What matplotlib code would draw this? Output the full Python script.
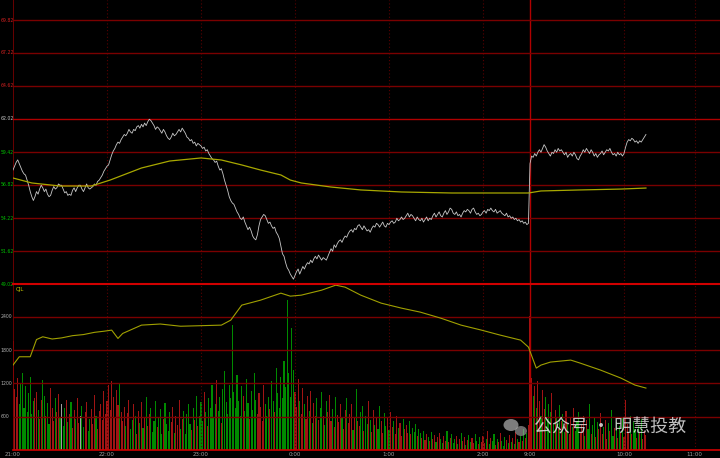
import matplotlib
matplotlib.use("Agg")
from matplotlib import pyplot as plt
from matplotlib.patches import Ellipse
import numpy as np

# minute index from 21:00 (night 21:00-2:30, then day session from 9:00)
tick_pos = [0, 60, 120, 180, 240, 300, 330, 390, 435]
tick_labels = ["21:00", "22:00", "23:00", "0:00", "1:00", "2:00", "9:00", "10:00", "11:00"]

price_levels = [69.82, 67.22, 64.62, 62.02, 59.42, 56.82, 54.22, 51.62, 49.02]
vol_levels = [600, 1200, 1800, 2400]

price = [
    58.0, 58.3, 58.6, 58.8, 58.5, 58.2, 57.9, 57.7, 57.6, 57.2,
    56.8, 56.3, 55.9, 55.6, 55.9, 56.3, 56.1, 56.5, 56.8, 56.6,
    56.3, 56.5, 56.1, 55.9, 56.0, 56.4, 56.7, 56.5, 56.6, 56.9,
    56.8, 56.8, 56.5, 56.2, 56.3, 56.0, 56.1, 56.0, 56.4, 56.6,
    56.3, 56.6, 56.8, 56.8, 56.5, 56.3, 56.6, 56.9, 56.6, 56.5,
    56.6, 56.7, 56.9, 56.8, 57.1, 57.2, 57.4, 57.6, 57.9, 58.1,
    58.3, 58.4, 58.8, 59.2, 59.5, 59.7, 60.0, 60.2, 60.1, 60.4,
    60.6, 60.8, 60.7, 60.9, 61.2, 61.0, 60.9, 61.2, 61.1, 61.4,
    61.5, 61.3, 61.6, 61.4, 61.7, 61.5, 61.8, 62.0, 61.9, 61.7,
    61.5, 61.2, 61.4, 61.3, 61.1, 60.9, 61.2, 61.0, 60.7, 60.5,
    60.4, 60.6, 60.9, 60.7, 60.8, 61.0, 61.2, 61.0, 61.3, 61.1,
    60.9, 60.6, 60.5, 60.3, 60.4, 60.1, 60.2, 59.9, 60.1, 60.0,
    59.9, 59.7, 59.8, 59.5, 59.6, 59.3, 59.1, 58.9, 58.8, 58.6,
    58.7, 58.3, 58.0, 58.1, 57.7, 57.2, 56.8, 56.4, 55.9, 55.6,
    55.4, 55.3, 55.0, 54.7, 54.5, 54.2, 54.1, 54.3, 53.9, 53.6,
    53.3, 53.5, 53.2, 52.8, 52.6, 52.5, 52.9, 53.6, 54.1, 54.3,
    54.5, 54.4, 54.1, 53.8, 53.9, 53.6, 53.4, 53.5, 53.1, 52.9,
    52.6, 52.0, 51.4, 51.2, 50.7, 50.3, 50.1, 49.8, 49.6, 49.4,
    49.7, 50.0, 50.2, 49.8, 50.1, 50.4, 50.2, 50.5, 50.7, 50.6,
    50.9, 50.7, 51.0, 51.2, 51.0, 51.3, 51.1, 50.9, 51.1, 51.0,
    50.9, 51.2, 51.5, 51.8, 51.6, 52.1, 51.9, 52.2, 52.4, 52.5,
    52.3, 52.6, 52.8, 52.7, 53.0, 53.2, 53.3, 53.1, 53.4, 53.3,
    53.6, 53.7, 53.5, 53.3, 53.6, 53.4, 53.2, 53.3, 53.1, 53.4,
    53.6, 53.5, 53.8, 53.7, 53.5, 53.7, 53.9, 53.6, 53.5, 53.8,
    53.7, 53.9, 54.0, 53.8, 53.9, 54.2, 54.0, 54.1, 54.3, 54.1,
    54.2, 54.4, 54.6, 54.3, 54.5, 54.4, 54.2, 54.0, 54.3, 54.1,
    54.0, 54.2, 53.9, 54.1, 54.3, 54.0, 54.2, 54.1, 54.4, 54.6,
    54.3, 54.5, 54.7, 54.4, 54.3, 54.6, 54.8, 54.5, 54.7, 55.0,
    54.9, 54.6, 54.5, 54.7, 54.4, 54.5, 54.3, 54.6, 54.8, 54.7,
    54.9, 54.8, 54.6, 54.9, 55.0, 54.7, 54.5, 54.6, 54.4, 54.5,
    54.7, 54.8, 54.6, 54.9, 54.8, 55.0, 54.8, 54.7, 54.9, 54.6,
    54.7, 54.8, 54.6, 54.5, 54.4, 54.6, 54.3, 54.4, 54.2, 54.3,
    54.1, 54.2, 54.0, 54.1, 53.9, 54.0, 53.8, 53.9, 53.7, 53.8,
    58.5, 59.1, 59.0, 59.3, 59.1, 59.4, 59.6, 59.4, 59.7, 60.0,
    59.8, 59.5, 59.3, 59.1, 59.4, 59.3, 59.6, 59.4, 59.7, 59.5,
    59.6, 59.4, 59.2, 59.4, 59.0, 59.2, 59.3, 59.1, 59.4, 59.2,
    58.9, 58.8, 59.1, 59.3, 59.6, 59.4, 59.7, 59.5, 59.3, 59.6,
    59.4, 59.1, 59.3, 59.0, 59.2, 59.3, 59.5, 59.2, 59.4, 59.6,
    59.5, 59.7, 59.4, 59.2, 59.3, 59.1, 59.4, 59.2, 59.3, 59.1,
    59.3, 59.8, 60.2, 60.4, 60.3, 60.5, 60.4, 60.2, 60.3, 60.1,
    60.3, 60.2, 60.4, 60.6, 60.8,
]

avg_x = [0, 12, 30, 50, 62, 82, 100, 120, 133, 146, 158, 171, 177, 184,
         203, 222, 248, 280, 311, 329, 337, 362, 388, 404]
avg_price = [57.37, 56.98, 56.74, 56.74, 57.21, 58.16, 58.71, 58.95, 58.79,
             58.40, 58.00, 57.61, 57.21, 56.98, 56.66, 56.43, 56.27, 56.19,
             56.19, 56.19, 56.35, 56.43, 56.50, 56.58]

volume = [
    1960, 1100, 950, 1300, 820, 1200, 1380, 760, 1150, 690, 1020, 1310, 640, 880, 930,
    1050, 720, 560, 900, 1270, 980, 610, 840, 470, 1120, 760, 520, 930, 680, 1010,
    580, 820, 430, 760, 900, 510, 640, 860, 390, 720, 550, 930, 480, 610, 790,
    420, 680, 870, 350, 560, 740, 460, 990, 620, 380, 710, 830, 540, 1060, 650,
    880, 1180, 720, 1240, 960, 590, 1090, 810, 1200, 690, 520, 780, 430, 660, 900,
    370, 540, 820, 610, 290, 700, 480, 860, 390, 570, 950, 440, 650, 760, 330,
    520, 880, 410, 600, 730, 280, 560, 840, 470, 350, 690, 510, 780, 300, 620,
    450, 900, 380, 560, 710, 290, 640, 820, 470, 360, 750, 540, 980, 430, 610,
    870, 520, 1050, 680, 440, 930, 760, 1180, 590, 820, 1260, 700, 950, 480, 1100,
    1420, 860, 640, 1180, 930, 2250, 1040, 760, 1350, 890, 620, 1150, 980, 700, 1280,
    840, 560, 1060, 720, 1390, 900, 650, 1020, 780, 520, 1170, 830, 610, 950, 740,
    1240, 880, 690, 1480, 1020, 760, 1320, 940, 1600, 1130, 2700, 1380, 960, 2200, 1450,
    1050, 780, 1280, 890, 640, 1120, 820, 560, 980, 700, 1060, 480, 850, 620, 930,
    540, 760, 1040, 620, 450, 880, 690, 1000, 520, 740, 410, 960, 630, 500, 830,
    600, 380, 720, 940, 480, 650, 820, 360, 590, 1100, 530, 430, 690, 800, 350,
    610, 470, 880, 540, 330, 720, 450, 600, 380, 790, 520, 300, 660, 440, 570,
    360, 680, 420, 530, 290, 610, 400, 480, 260, 560, 370, 450, 310, 520, 280,
    400, 330, 470, 250, 380, 300, 210, 350, 180, 290, 240, 160, 320, 200, 270,
    150, 230, 310, 190, 120, 260, 170, 340, 140, 220, 280, 130, 190, 250, 110,
    200, 310, 160, 240, 90, 180, 270, 140, 210, 120, 290, 170, 100, 230, 150,
    260, 130, 190, 350, 110, 220, 170, 280, 90, 200, 140, 310, 160, 80, 240,
    180, 120, 270, 150, 210, 100, 330, 190, 140, 260, 170, 380, 220, 300, 450,
    2420, 1300, 980, 1150, 760, 1240, 890, 620, 1080, 740, 950, 560, 830, 680, 1020,
    470, 720, 590, 380, 810, 520, 640, 330, 700, 460, 280, 580, 410, 750, 350,
    520, 690, 300, 470, 610, 250, 540, 380, 820, 290, 450, 600, 230, 510, 370,
    660, 280, 420, 540, 200, 480, 340, 720, 260, 390, 510, 220, 440, 310, 580,
    240, 900, 460, 330, 620, 280, 500, 370, 210, 430, 310, 560, 190, 350, 270,
]

cjl_x = [0, 4, 11, 15, 19, 25, 31, 38, 45, 52, 58, 63, 67, 70, 82, 94, 107,
         120, 133, 139, 146, 158, 171, 177, 184, 197, 206, 212, 222, 235, 248,
         260, 273, 286, 299, 311, 324, 329, 334, 337, 343, 356, 362, 375, 388,
         397, 404]
cjl = [1530, 1680, 1680, 1990, 2040, 2000, 2020, 2060, 2080, 2120, 2140, 2160,
       2010, 2100, 2250, 2270, 2230, 2240, 2250, 2340, 2610, 2700, 2826, 2772,
       2790, 2880, 2970, 2934, 2790, 2646, 2556, 2484, 2376, 2250, 2160, 2070,
       1980, 1854, 1476, 1530, 1584, 1620, 1566, 1440, 1296, 1170, 1116]

W, H = 720, 458
px_per_min = 94 / 60
left_px = 13
x_max = (W - left_px) / px_per_min

fig = plt.figure(figsize=(7.2, 4.58), dpi=100, facecolor="black")
ax1 = fig.add_axes([left_px / W, 1 - 284 / H, 1 - left_px / W, 284 / H])
ax2 = fig.add_axes([left_px / W, 1 - 450 / H, 1 - left_px / W, 166 / H])

grid_red = "#7a0000"
bright_red = "#d00000"

for ax in (ax1, ax2):
    ax.set_facecolor("black")
    ax.set_xlim(0, x_max)
    ax.set_xticks([])
    ax.set_yticks([])
    for s in ax.spines.values():
        s.set_visible(False)
    # hour lines
    for t in tick_pos:
        if t == 0:
            ax.axvline(t, color=grid_red, lw=1.2)
        elif t == 330:
            ax.axvline(t, color="#b00000", lw=1.0)
        else:
            ax.axvline(t, color="#5a0000", lw=0.8, ls=(0, (1, 2)))

# ---- price panel
step = price_levels[0] - price_levels[1]
ax1.set_ylim(price_levels[-1], price_levels[0] + 20 / 33 * step)
for lv in price_levels[:-1]:
    c = "#b00000" if lv == 62.02 else grid_red
    ax1.axhline(lv, color=c, lw=1.0)

x = np.arange(len(price))
ax1.plot(x, price, color="#c8c8c8", lw=0.6)
ax1.plot(avg_x, avg_price, color="#a8a800", lw=0.9)

label_colors = ["#d02020", "#d02020", "#d02020", "#c8c8c8",
                "#00c000", "#00c000", "#00c000", "#00c000", "#00c000"]
for lv, c in zip(price_levels, label_colors):
    ax1.annotate(f"{lv:.2f}", xy=(0, lv), xycoords=("figure fraction", "data"),
                 xytext=(0.5, 0), textcoords="offset points",
                 ha="left", va="center", fontsize=3.3, color=c,
                 annotation_clip=False)

# ---- volume panel
ax2.set_ylim(0, 166 / 33.3 * 600)
for lv in vol_levels:
    ax2.axhline(lv, color=grid_red, lw=1.0)
    ax2.annotate(f"{lv}", xy=(0, lv), xycoords=("figure fraction", "data"),
                 xytext=(0.5, 0), textcoords="offset points",
                 ha="left", va="center", fontsize=3.3, color="#b0b0b0",
                 annotation_clip=False)

colors = []
for i in range(len(volume)):
    if i == 0 or price[i] > price[i - 1]:
        colors.append("#a01414")
    elif price[i] < price[i - 1]:
        colors.append("#008a00")
    else:
        colors.append("#a0a0a0")
ax2.bar(np.arange(len(volume)), volume, width=0.7, color=colors, linewidth=0)
ax2.plot(cjl_x, cjl, color="#a0a000", lw=0.8)
ax2.text(2, 2930, "CJL", color="#c8c800", fontsize=4, va="top", ha="left")

# panel separators
fig.add_artist(plt.Line2D([left_px / W, 1], [1 - 284 / H] * 2, color=bright_red, lw=1.5))
fig.add_artist(plt.Line2D([left_px / W, 1], [1 - 450 / H] * 2, color=bright_red, lw=1.2))

# time labels
for t, lab in zip(tick_pos, tick_labels):
    xp = max(left_px + t * px_per_min, 10)
    fig.text(xp / W, 1 - 454 / H, lab,
             ha="center", va="center", fontsize=4, color="#a0a0a0")

# watermark: wechat-like bubbles + account name
fig.add_artist(Ellipse((511 / W, 1 - 425 / H), 15 / W, 12 / H,
                       transform=fig.transFigure, color="#d0d0d0", alpha=0.6, lw=0))
fig.add_artist(Ellipse((521 / W, 1 - 431 / H), 12 / W, 10 / H,
                       transform=fig.transFigure, color="#b0b0b0", alpha=0.6, lw=0))
fig.text(0.742, 1 - 428 / H, "公众号 · 明慧投教", fontsize=13,
         color="#e0e0e0", alpha=0.85, va="center", ha="left",
         family=["Noto Sans CJK SC", "DejaVu Sans"])

plt.savefig("out.png", dpi=100, facecolor="black")
plt.close()
